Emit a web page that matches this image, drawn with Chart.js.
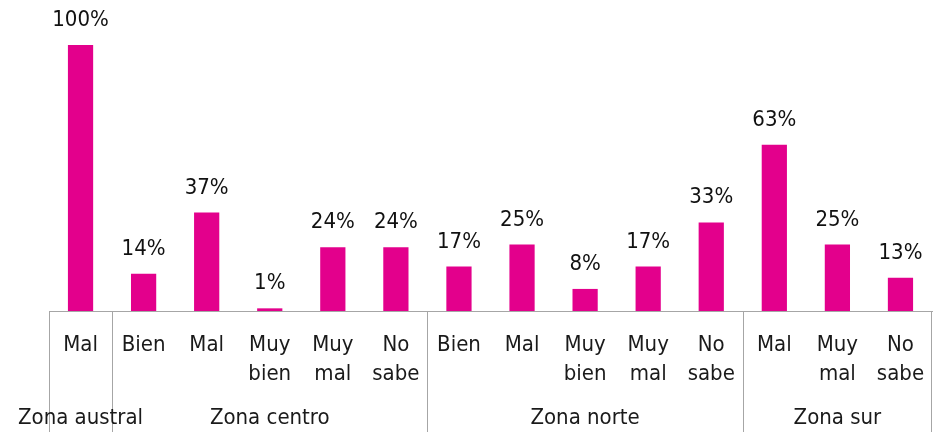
<!DOCTYPE html>
<html>
<head>
<meta charset="utf-8">
<script src="https://cdn.jsdelivr.net/npm/chart.js@4"></script>
<style>
  html, body { margin: 0; padding: 0; background: #fff; }
  #wrap { width: 935px; height: 432px; }
</style>
</head>
<body>
<div id="wrap"><canvas id="myChart"></canvas></div>
<script>
// answers per zone, in percent
var zones = ['Zona austral', 'Zona centro', 'Zona norte', 'Zona sur'];
var zoneSizes = [1, 5, 5, 3];
var answers = [
    ['Mal'],
    ['Bien'], ['Mal'], ['Muy', 'bien'], ['Muy', 'mal'], ['No', 'sabe'],
    ['Bien'], ['Mal'], ['Muy', 'bien'], ['Muy', 'mal'], ['No', 'sabe'],
    ['Mal'], ['Muy', 'mal'], ['No', 'sabe']
];
var percents = [100, 14, 37, 1, 24, 24, 16.7, 25, 8.3, 16.7, 33.3, 62.5, 25, 12.5];

var FONT = '"DejaVu Sans Condensed", "DejaVu Sans", sans-serif';

// value labels above bars, separators and zone names under the axis
var extras = {
    id: 'extras',
    afterDatasetsDraw: function(chart) {
        var ctx = chart.ctx;
        var x = chart.scales.x;
        var meta = chart.getDatasetMeta(0);
        ctx.save();
        ctx.fillStyle = '#111';
        ctx.font = '22px ' + FONT;
        ctx.textAlign = 'center';
        ctx.textBaseline = 'alphabetic';
        meta.data.forEach(function(bar, i) {
            ctx.fillText(Math.round(percents[i]) + '%', bar.x, bar.y - 19);
        });

        // group separators
        var step = x.width / answers.length;
        ctx.strokeStyle = '#a6a6a6';
        ctx.lineWidth = 1;
        var idx = 0;
        var edges = [0];
        for (var g = 0; g < zoneSizes.length; g++) {
            idx += zoneSizes[g];
            edges.push(idx);
        }
        edges.forEach(function(e) {
            var px = Math.round(x.getPixelForValue(e) - step / 2) + 0.5;
            if (e === answers.length) px = Math.round(x.right) - 0.5;
            ctx.beginPath();
            ctx.moveTo(px, x.top);
            ctx.lineTo(px, chart.height);
            ctx.stroke();
        });

        // zone names
        ctx.fillStyle = '#1a1a1a';
        var start = 0;
        for (var z = 0; z < zones.length; z++) {
            var a = x.getPixelForValue(start);
            var b = x.getPixelForValue(start + zoneSizes[z] - 1);
            ctx.fillText(zones[z], (a + b) / 2, 424);
            start += zoneSizes[z];
        }
        ctx.restore();
    }
};

var ctx = document.getElementById('myChart').getContext('2d');
var myChart = new Chart(ctx, {
    type: 'bar',
    data: {
        labels: answers,
        datasets: [{
            data: percents,
            backgroundColor: '#e3008c',
            categoryPercentage: 1,
            barPercentage: 0.4
        }]
    },
    options: {
        responsive: true,
        maintainAspectRatio: false,
        animation: false,
        layout: { padding: { left: 49, right: 3, top: 45, bottom: 0 } },
        plugins: {
            legend: { display: false },
            tooltip: { enabled: false }
        },
        scales: {
            y: {
                display: false,
                min: 0,
                max: 100
            },
            x: {
                grid: { display: false },
                border: { display: true, color: '#a6a6a6', width: 1 },
                ticks: {
                    color: '#1a1a1a',
                    font: { family: FONT, size: 22, lineHeight: 1.3 },
                    padding: 12,
                    maxRotation: 0,
                    autoSkip: false
                },
                afterFit: function(scale) {
                    scale.height = 121;
                    scale.paddingLeft = 0;
                    scale.paddingRight = 0;
                }
            }
        }
    },
    plugins: [extras]
});
</script>
</body>
</html>
